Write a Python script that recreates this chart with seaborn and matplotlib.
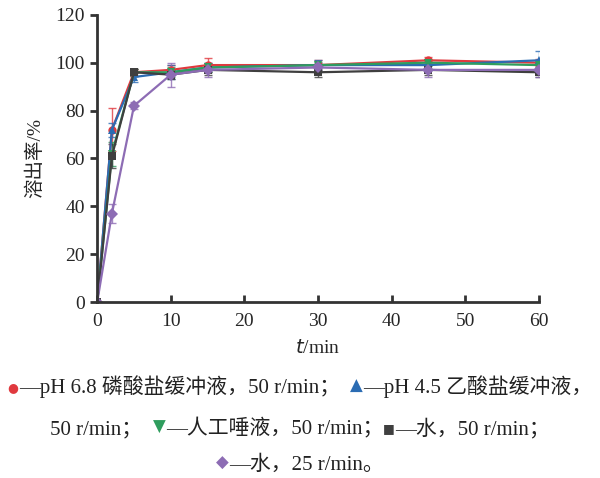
import matplotlib.pyplot as plt
import seaborn as sns
import numpy as np
import pandas as pd

# время отбора проб, мин
t = [0, 2, 5, 10, 15, 30, 45, 60]

# средние значения растворения, %
red = [0, 72, 96, 97, 99, 99, 101, 100]
blue = [0, 72, 94, 96, 98, 99, 99, 101]
green = [0, 62, 96, 96, 98, 99, 100, 99]
black = [0, 61, 96, 95, 97, 96, 97, 96]
purple = [0, 37, 82, 95, 97, 98, 97, 97]

# стандартные отклонения
red_sd = [0, 9, 1.5, 2, 3, 2, 1.5, 1.5]
blue_sd = [0, 3, 2, 3, 2, 2, 2, 4]
green_sd = [0, 5, 1.5, 2, 2, 1.5, 1.5, 1.5]
black_sd = [0, 5, 1.5, 2, 2, 2, 2, 2]
purple_sd = [0, 4, 1.5, 5, 3, 2, 3, 3]

names = ['pH 6.8', 'pH 4.5', 'saliva', 'water50', 'water25']
colors = ['#e0393e', '#2b6cb3', '#2f9d5e', '#3f3f3f', '#8d6cb4']
markers = ['o', '^', 'v', 's', 'D']
means = [red, blue, green, black, purple]
sds = [red_sd, blue_sd, green_sd, black_sd, purple_sd]

rows = []
for n, m in zip(names, means):
    for ti, v in zip(t, m):
        rows.append({'t': ti, 'val': v, 'series': n})
df = pd.DataFrame(rows)

sns.set_style('white')
plt.rcParams['font.family'] = ['Liberation Serif', 'Noto Sans CJK SC']

fig = plt.figure(figsize=(6, 4.78), dpi=100)
ax = fig.add_axes([0.162, 0.368, 0.736, 0.601])

# сначала планки погрешностей
for m, s, c in zip(means, sds, colors):
    ax.errorbar(t, m, yerr=s, fmt='none', ecolor=c, elinewidth=1, capsize=3, alpha=0.8)

sns.lineplot(data=df, x='t', y='val', hue='series', style='series',
             palette=dict(zip(names, colors)), markers=dict(zip(names, markers)),
             dashes=False, markersize=6, markeredgewidth=0, linewidth=1.6,
             legend=False, ax=ax)

ax.set_xlim(0, 60)
ax.set_ylim(0, 120)
ax.set_xticks(range(0, 61, 10))
ax.set_yticks(range(0, 121, 20))
for sp in ['top', 'right']:
    ax.spines[sp].set_visible(False)
for sp in ['left', 'bottom']:
    ax.spines[sp].set_color('#333333')
    ax.spines[sp].set_linewidth(2)
ax.tick_params(axis='y', direction='out', length=5, width=2, color='#333333', labelsize=14, pad=4, left=True)
ax.tick_params(axis='x', direction='in', length=5, width=2, color='#333333', labelsize=14, pad=8, bottom=True)
ax.set_xlabel('$\\it{t}$/min', fontsize=14, labelpad=6)
ax.set_ylabel('溶出率/%', fontsize=14, labelpad=8)

# подпись с условными обозначениями в три строки
lines = [
    [('●', colors[0]), ('—pH 6.8 磷酸盐缓冲液，50 r/min；  ', None),
     ('▲', colors[1]), ('—pH 4.5 乙酸盐缓冲液，', None)],
    [('50 r/min；  ', None), ('▼', colors[2]), ('—人工唾液，50 r/min；', None),
     ('■', colors[3]), ('—水，50 r/min；', None)],
    [('◆', colors[4]), ('—水，25 r/min。', None)],
]
sizes = {'●': 9, '▲': 12, '▼': 12, '■': 9, '◆': 12}
ys = [0.178, 0.092, 0.018]
fig.canvas.draw()
r = fig.canvas.get_renderer()
for parts, y in zip(lines, ys):
    objs = []
    for txt, c in parts:
        if c is None:
            o = fig.text(0, y, txt, fontsize=15, color='#222222', va='baseline',
                         family=['Liberation Serif', 'Noto Sans CJK SC'])
        else:
            o = fig.text(0, y + 0.004, txt, fontsize=sizes[txt], color=c, va='baseline', family='DejaVu Sans')
        objs.append(o)
    widths = [o.get_window_extent(r).width / fig.bbox.width for o in objs]
    x = 0.5 - sum(widths) / 2
    for o, w in zip(objs, widths):
        o.set_x(x)
        x += w

fig.savefig('out.png', dpi=100)
